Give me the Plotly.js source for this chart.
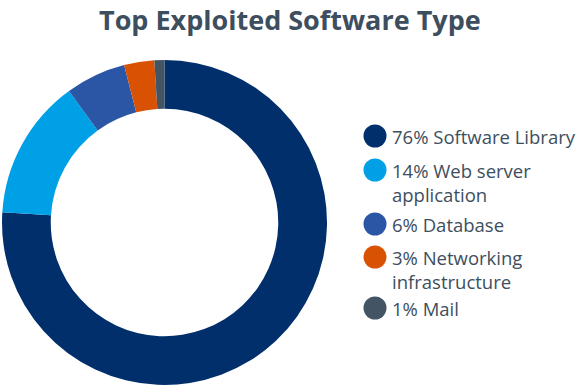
<!DOCTYPE html>
<html>
<head>
<meta charset="utf-8">
<script src="https://cdn.plot.ly/plotly-3.0.1.min.js"></script>
<style>html,body{margin:0;padding:0;background:#fff;}#chart{width:580px;height:388px;}</style>
</head>
<body>
<div id="chart"></div>
<script>
const categories = ["Software Library", "Web server application", "Database", "Networking infrastructure", "Mail"];
const values = [76, 14, 6, 3, 1];
const legendLabels = ["76% Software Library", "14% Web server<br>application", "6% Database", "3% Networking<br>infrastructure", "1% Mail"];
const colors = ["#002f6c", "#00a0e6", "#2b56a6", "#d95204", "#435565"];
const chartTitle = "Top Exploited Software Type";

const textColor = "#3d4e5e";
const legendY = [136, 170, 224, 257, 308]; // pixel centres of legend markers
const H = 388, W = 580;

const shapes = [], annotations = [];
legendY.forEach((py, i) => {
  const cx = 375, r = 11.5;
  shapes.push({type: "circle", xref: "paper", yref: "paper",
    x0: (cx - r) / W, x1: (cx + r) / W, y0: 1 - (py + r) / H, y1: 1 - (py - r) / H,
    fillcolor: colors[i], line: {width: 0}});
  annotations.push({xref: "paper", yref: "paper", x: 390 / W, y: 1 - (py - 14) / H,
    xanchor: "left", yanchor: "top", align: "left", showarrow: false,
    text: legendLabels[i], font: {family: "Open Sans", size: 18.5, color: textColor}});
});
annotations.push({xref: "paper", yref: "paper", x: 0.5, y: 1, xanchor: "center", yanchor: "top",
  showarrow: false, borderpad: 0, text: "<b>" + chartTitle + "</b>",
  font: {family: "Open Sans", size: 27, color: textColor}});

const data = [{
  type: "pie",
  labels: categories,
  values: values,
  marker: {colors: colors, line: {width: 0}},
  hole: 0.70,
  sort: false,
  direction: "clockwise",
  rotation: 0,
  textinfo: "none",
  hoverinfo: "label+percent",
  showlegend: false,
  domain: {x: [2 / W, 327 / W], y: [3 / H, 328 / H]}
}];

const layout = {
  width: W, height: H,
  margin: {l: 0, r: 0, t: 0, b: 0},
  paper_bgcolor: "#fff",
  shapes: shapes,
  annotations: annotations,
  showlegend: false
};

Plotly.newPlot("chart", data, layout, {displayModeBar: false, staticPlot: true});
</script>
</body>
</html>
